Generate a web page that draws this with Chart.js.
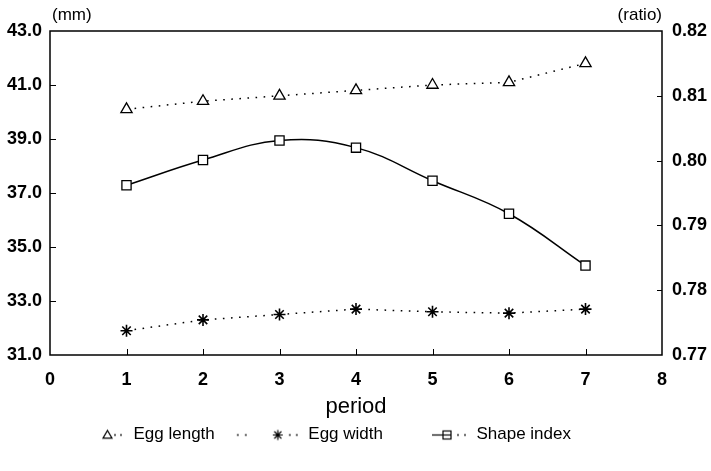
<!DOCTYPE html>
<html><head><meta charset="utf-8">
<script src="https://cdn.jsdelivr.net/npm/chart.js@4/dist/chart.umd.min.js"></script>
<style>html,body{margin:0;padding:0;background:#fff}#wrap{width:711px;height:471px}</style>
</head><body><div id="wrap"><canvas id="c" width="711" height="471"></canvas></div>
<script>
const periods = [1, 2, 3, 4, 5, 6, 7];
const eggLength = [40.1, 40.4, 40.6, 40.8, 41.0, 41.1, 41.8];
const eggWidth = [31.9, 32.3, 32.5, 32.7, 32.6, 32.55, 32.7];
const shapeIndex = [0.7962, 0.8001, 0.8031, 0.8020, 0.7969, 0.7918, 0.7838];
const seriesNames = ['Egg length', 'Egg width', 'Shape index'];
const xTicks = [0, 1, 2, 3, 4, 5, 6, 7, 8];
const leftTicks = [31, 33, 35, 37, 39, 41, 43];
const rightTicks = [0.77, 0.78, 0.79, 0.80, 0.81, 0.82];
const unitLeft = '(mm)';
const unitRight = '(ratio)';
const xTitle = 'period';

const FONT = "'Liberation Sans', Arial, sans-serif";

function makeIcon(kind) {
  const c = document.createElement('canvas');
  c.width = 66; c.height = 16;
  const g = c.getContext('2d');
  g.strokeStyle = '#000'; g.fillStyle = '#000'; g.lineWidth = 1.2;
  const cy = 8.5;
  const dot = x => g.fillRect(x - 0.8, cy - 0.8, 1.6, 1.6);
  if (kind === 'tri') {
    const x = 48.5, r = 4.5;
    g.beginPath(); g.moveTo(x, cy - r); g.lineTo(x + r, cy + r * 0.7); g.lineTo(x - r, cy + r * 0.7); g.closePath(); g.stroke();
    dot(56); dot(62);
  } else if (kind === 'star') {
    dot(4); dot(12);
    const x = 44, r = 5;
    g.beginPath();
    for (let k = 0; k < 4; k++) {
      const a = k * Math.PI / 4;
      g.moveTo(x - r * Math.cos(a), cy - r * Math.sin(a));
      g.lineTo(x + r * Math.cos(a), cy + r * Math.sin(a));
    }
    g.stroke();
    dot(56); dot(63);
  } else {
    g.beginPath(); g.moveTo(30, cy); g.lineTo(41, cy); g.stroke();
    g.strokeRect(41, cy - 4, 8, 8);
    g.beginPath(); g.moveTo(41, cy); g.lineTo(49, cy); g.stroke();
    dot(56); dot(63);
  }
  return c;
}
const icons = [makeIcon('tri'), makeIcon('star'), makeIcon('rect')];

const framePlugin = {
  id: 'frame',
  afterLayout(chart) {
    if (chart.legend) { chart.legend.left += 40; }
  },
  afterDraw(chart) {
    const { ctx, chartArea: a, scales } = chart;
    ctx.save();
    ctx.strokeStyle = '#000';
    ctx.lineWidth = 1.5;
    ctx.strokeRect(a.left, a.top, a.right - a.left, a.bottom - a.top);
    ctx.lineWidth = 1;
    ctx.beginPath();
    xTicks.slice(1, -1).forEach(v => {
      const px = Math.round(scales.x.getPixelForValue(v)) + 0.5;
      ctx.moveTo(px, a.bottom); ctx.lineTo(px, a.bottom - 6);
    });
    leftTicks.slice(1, -1).forEach(v => {
      const py = Math.round(scales.y.getPixelForValue(v)) + 0.5;
      ctx.moveTo(a.left, py); ctx.lineTo(a.left + 6, py);
    });
    rightTicks.slice(1, -1).forEach(v => {
      const py = Math.round(scales.y1.getPixelForValue(v)) + 0.5;
      ctx.moveTo(a.right, py); ctx.lineTo(a.right - 5, py);
    });
    ctx.stroke();
    ctx.fillStyle = '#000';
    ctx.font = '17px ' + FONT;
    ctx.textBaseline = 'middle';
    ctx.textAlign = 'left';
    ctx.fillText(unitLeft, a.left + 2, 15);
    ctx.textAlign = 'right';
    ctx.fillText(unitRight, a.right, 15);
    ctx.restore();
  }
};

const pts = arr => periods.map((p, i) => ({ x: p, y: arr[i] }));
const tickFont = { family: FONT, size: 18, weight: 'bold' };

new Chart(document.getElementById('c'), {
  type: 'line',
  data: {
    datasets: [
      {
        label: seriesNames[0], data: pts(eggLength), yAxisID: 'y',
        borderColor: '#000', borderWidth: 1.5, borderDash: [1.6, 6.5],
        pointStyle: 'triangle', pointRadius: 6.5, pointBorderWidth: 1.3,
        pointBackgroundColor: '#fff', pointBorderColor: '#000', tension: 0
      },
      {
        label: seriesNames[1], data: pts(eggWidth), yAxisID: 'y',
        borderColor: '#000', borderWidth: 1.5, borderDash: [1.6, 6.5],
        pointStyle: 'star', pointRadius: 6, pointBorderWidth: 1.6,
        pointBackgroundColor: '#fff', pointBorderColor: '#000', tension: 0
      },
      {
        label: seriesNames[2], data: pts(shapeIndex), yAxisID: 'y1',
        borderColor: '#000', borderWidth: 1.5,
        pointStyle: 'rect', pointRadius: 6.5, pointBorderWidth: 1.3,
        pointBackgroundColor: '#fff', pointBorderColor: '#000', tension: 0.4
      }
    ]
  },
  options: {
    responsive: false,
    animation: false,
    events: [],
    layout: { padding: { top: 31, left: 0, right: 0, bottom: 18 } },
    plugins: {
      tooltip: { enabled: false },
      legend: {
        position: 'bottom',
        align: 'start',
        labels: {
          usePointStyle: true,
          pointStyleWidth: 66,
          padding: 19,
          color: '#000',
          font: { family: FONT, size: 17 },
          generateLabels(chart) {
            return chart.data.datasets.map((ds, i) => ({
              text: ds.label, pointStyle: icons[i], datasetIndex: i, hidden: false,
              lineWidth: 1, strokeStyle: '#000', fillStyle: '#fff', fontColor: '#000'
            }));
          }
        }
      }
    },
    scales: {
      x: {
        type: 'linear', min: 0, max: 8,
        afterBuildTicks: s => { s.ticks = xTicks.map(v => ({ value: v })); },
        afterFit: s => { s.height = 52; },
        grid: { display: false, drawTicks: false },
        border: { display: false },
        ticks: { padding: 14, color: '#000', font: tickFont, callback: v => String(v) },
        title: { display: true, text: xTitle, color: '#000', font: { family: FONT, size: 22 }, padding: { top: 0, bottom: -13 } }
      },
      y: {
        position: 'left', min: 31, max: 43,
        afterBuildTicks: s => { s.ticks = leftTicks.map(v => ({ value: v })); },
        afterFit: s => { s.width = 50; },
        grid: { display: false, drawTicks: false },
        border: { display: false },
        ticks: { padding: 8, color: '#000', font: tickFont, callback: v => Number(v).toFixed(1) }
      },
      y1: {
        position: 'right', min: 0.77, max: 0.82,
        afterBuildTicks: s => { s.ticks = rightTicks.map(v => ({ value: v })); },
        afterFit: s => { s.width = 49; },
        grid: { display: false, drawTicks: false },
        border: { display: false },
        ticks: { padding: 10, color: '#000', font: tickFont, callback: v => Number(v).toFixed(2) }
      }
    }
  },
  plugins: [framePlugin]
});
</script>
</body></html>
